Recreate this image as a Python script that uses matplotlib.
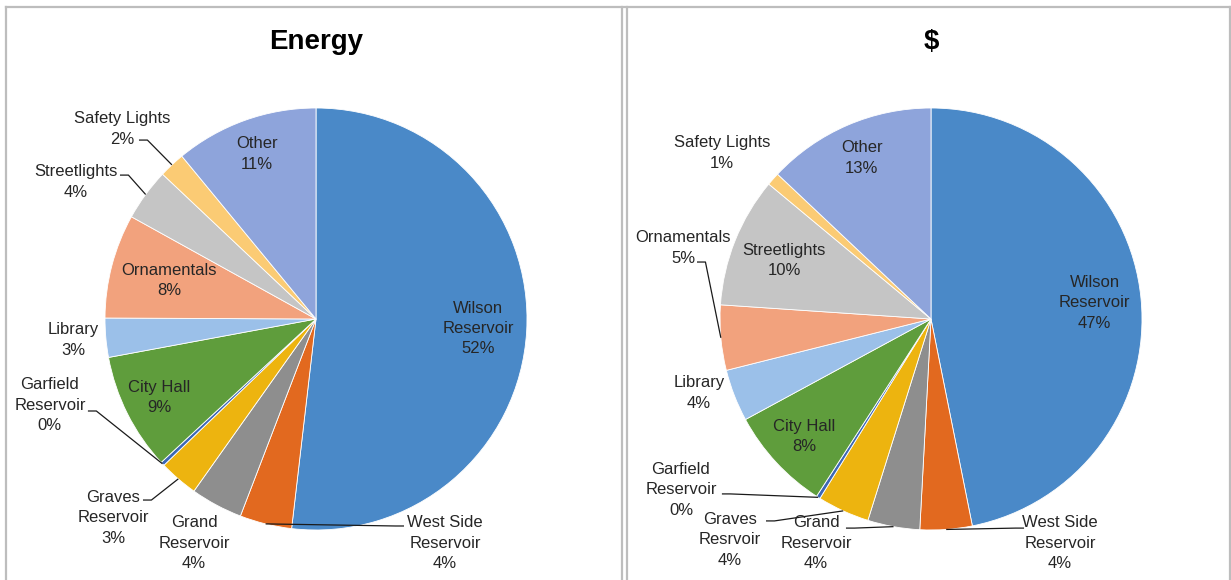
import numpy as np
import matplotlib.pyplot as plt
from matplotlib.lines import Line2D

plt.rcParams['font.family'] = ['Liberation Sans', 'DejaVu Sans']

# slices run clockwise from 12 o'clock
energy_names = ["Wilson\nReservoir", "West Side\nReservoir", "Grand\nReservoir",
                "Graves\nReservoir", "Garfield\nReservoir", "City Hall", "Library",
                "Ornamentals", "Streetlights", "Safety Lights", "Other"]
cost_names = ["Wilson\nReservoir", "West Side\nReservoir", "Grand\nReservoir",
              "Graves\nResrvoir", "Garfield\nReservoir", "City Hall", "Library",
              "Ornamentals", "Streetlights", "Safety Lights", "Other"]
energy_pct = [52, 4, 4, 3, 0.3, 9, 3, 8, 4, 2, 11]
cost_pct = [47, 4, 4, 4, 0.3, 8, 4, 5, 10, 1, 13]
slice_colors = ["#4A89C8", "#E2691F", "#8E8E8E", "#EDB40F", "#3C67B5", "#5F9D3C",
                "#9BC0E9", "#F2A27D", "#C5C5C5", "#FBCB74", "#8EA4DB"]

# label placement in pie radii: inside -> radius along the slice middle,
# outside -> (text centre, leader start or None)
energy_inside = {0: 0.77, 5: 0.83, 7: 0.72, 10: 0.83}
energy_outside = {
    1: ((0.611, -1.062), (0.417, -0.981)),
    2: ((-0.578, -1.062), None),
    3: ((-0.962, -0.943), (-0.820, -0.858)),
    4: ((-1.261, -0.408), (-1.081, -0.436)),
    6: ((-1.152, -0.100), None),
    8: ((-1.137, 0.649), (-0.929, 0.682)),
    9: ((-0.919, 0.900), (-0.839, 0.848)),
}
cost_inside = {0: 0.78, 5: 0.82, 8: 0.75, 10: 0.83}
cost_outside = {
    1: ((0.611, -1.062), (0.441, -0.991)),
    2: ((-0.545, -1.062), (-0.403, -0.991)),
    3: ((-0.953, -1.047), (-0.782, -0.957)),
    4: ((-1.185, -0.810), (-0.991, -0.829)),
    6: ((-1.100, -0.351), None),
    7: ((-1.175, 0.336), (-1.109, 0.270)),
    9: ((-0.991, 0.787), None),
}

W, H = 1231, 580
R = 211.0
fig = plt.figure(figsize=(W / 100, H / 100), dpi=100)
text_color = "#262626"
label_kw = dict(ha="center", va="center", fontsize=12, color=text_color, linespacing=1.45)


def draw_pie(x0, x1, cx, cy, title, names, values, inside, outside):
    # axes spans the panel; limits chosen so one data unit = pie radius
    ax = fig.add_axes([x0 / W, 0, (x1 - x0) / W, (H - 7) / H])
    wedges, _ = ax.pie(values, colors=slice_colors, startangle=90, counterclock=False,
                       wedgeprops=dict(edgecolor="white", linewidth=0.6))
    ax.set_xlim((x0 - cx) / R, (x1 - cx) / R)
    ax.set_ylim((cy - H) / R, (cy - 7) / R)
    ax.set_aspect("auto")
    ax.axis("off")
    total = sum(values)
    for i, w in enumerate(wedges):
        mid = np.deg2rad((w.theta1 + w.theta2) / 2)
        label = f"{names[i]}\n{round(values[i] / total * 100)}%"
        if i in inside:
            r = inside[i]
            ax.text(r * np.cos(mid), r * np.sin(mid), label, **label_kw)
        else:
            (tx, ty), anchor = outside[i]
            ax.text(tx, ty, label, **label_kw)
            if anchor is not None:
                ex, ey = np.cos(mid), np.sin(mid)
                ax_, ay_ = anchor
                stub = 0.04 * np.sign(ex - ax_)
                ax.plot([ax_, ax_ + stub, ex], [ay_, ay_, ey], color="#1a1a1a",
                        lw=0.9, solid_capstyle="butt")
    ax.text(0, (cy - 42) / R, title, ha="center", va="center", fontsize=20,
            fontweight="bold", color="black")


draw_pie(6, 622, 316, 319, "Energy", energy_names, energy_pct,
         energy_inside, energy_outside)
draw_pie(627, 1230, 931, 319, "$", cost_names, cost_pct, cost_inside, cost_outside)

# panel frames
border = "#BDBDBD"
for xs, ys in [((6, 1230), (7, 7)), ((6, 6), (7, 580)), ((622, 622), (7, 580)),
               ((627, 627), (7, 580)), ((1230, 1230), (7, 580))]:
    fig.add_artist(Line2D([x / W for x in xs], [1 - y / H for y in ys],
                          color=border, lw=1.6, transform=fig.transFigure))

fig.savefig("out.png", dpi=100)
